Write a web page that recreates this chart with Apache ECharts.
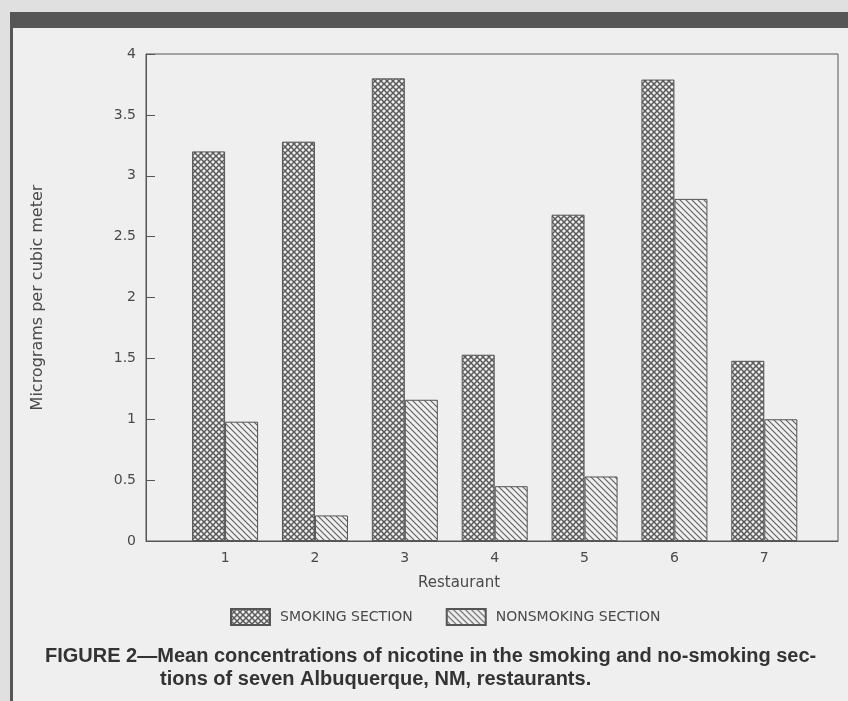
<!DOCTYPE html>
<html>
<head>
<meta charset="utf-8">
<script src="https://cdn.jsdelivr.net/npm/echarts@6/dist/echarts.min.js"></script>
<style>
html,body{margin:0;padding:0;background:#e2e2e2;}
#chart{width:848px;height:701px;}
</style>
</head>
<body>
<div id="chart"></div>
<script>
// ---- data ----
var restaurants = [1, 2, 3, 4, 5, 6, 7];
var smoking = [3.20, 3.28, 3.80, 1.53, 2.68, 3.79, 1.48];
var nonsmoking = [0.98, 0.21, 1.16, 0.45, 0.53, 2.81, 1.00];
var yTicks = [0, 0.5, 1, 1.5, 2, 2.5, 3, 3.5, 4];
var seriesNames = ['SMOKING SECTION', 'NONSMOKING SECTION'];
var yTitle = 'Micrograms per cubic meter';
var xTitle = 'Restaurant';
var caption1 = 'FIGURE 2\u2014Mean concentrations of nicotine in the smoking and no-smoking sec-';
var caption2 = 'tions of seven Albuquerque, NM, restaurants.';

function makeCross() {
  var c = document.createElement('canvas');
  c.width = 6; c.height = 6;
  var g = c.getContext('2d');
  g.fillStyle = '#efefef'; g.fillRect(0, 0, 6, 6);
  g.strokeStyle = '#5a5a5a'; g.lineWidth = 1.5;
  g.beginPath();
  g.moveTo(-1, -1); g.lineTo(7, 7);
  g.moveTo(-1, 7); g.lineTo(7, -1);
  g.stroke();
  return c;
}
function makeHatch() {
  var c = document.createElement('canvas');
  c.width = 6; c.height = 6;
  var g = c.getContext('2d');
  g.fillStyle = '#efefef'; g.fillRect(0, 0, 6, 6);
  g.strokeStyle = '#5e5e5e'; g.lineWidth = 1.1;
  g.beginPath();
  g.moveTo(-1, -1); g.lineTo(7, 7);
  g.moveTo(-1, 5); g.lineTo(1, 7);
  g.moveTo(5, -1); g.lineTo(7, 1);
  g.stroke();
  return c;
}
var crossFill = { image: makeCross(), repeat: 'repeat' };
var hatchFill = { image: makeHatch(), repeat: 'repeat' };

var labelFont = 'DejaVu Sans';
var textColor = '#4a4a4a';
var chart = echarts.init(document.getElementById('chart'), null, { renderer: 'canvas' });
chart.setOption({
  backgroundColor: '#e0e0e0',
  animation: false,
  graphic: [
    { type: 'rect', z: -10, shape: { x: 13, y: 28, width: 835, height: 673 }, style: { fill: '#efefef' } },
    { type: 'rect', z: -9, shape: { x: 10, y: 12, width: 838, height: 16 }, style: { fill: '#565656' } },
    { type: 'rect', z: -9, shape: { x: 10, y: 12, width: 3, height: 689 }, style: { fill: '#565656' } },
    { type: 'text', left: 45, top: 646, style: { text: caption1, font: 'bold 20px "Liberation Sans"', fill: '#333' } },
    { type: 'text', left: 160, top: 669, style: { text: caption2, font: 'bold 20px "Liberation Sans"', fill: '#333' } },
    { type: 'text', left: 418, top: 576, style: { text: xTitle, font: '15px "DejaVu Sans"', fill: textColor } }
  ],
  grid: {
    left: 146, right: 10, top: 54, bottom: 160,
    show: true, borderColor: '#555', borderWidth: 1, backgroundColor: 'transparent'
  },
  legend: {
    left: 225, top: 603,
    itemWidth: 39, itemHeight: 16, itemGap: 33,
    icon: 'rect',
    data: seriesNames,
    textStyle: { fontFamily: labelFont, fontSize: 14, color: textColor, padding: [0, 0, 0, 5] }
  },
  xAxis: {
    type: 'value',
    min: 0.12, max: 7.82,
    splitLine: { show: false },
    axisLine: { show: true, lineStyle: { color: '#555', width: 1 } },
    axisTick: { show: false },
    axisLabel: {
      customValues: restaurants,
      margin: 10,
      fontFamily: labelFont, fontSize: 14, color: textColor
    }
  },
  yAxis: {
    type: 'value',
    min: 0, max: 4, interval: 0.5,
    name: yTitle,
    nameLocation: 'middle',
    nameGap: 100,
    nameRotate: 90,
    nameTextStyle: { fontFamily: labelFont, fontSize: 16, color: textColor },
    splitLine: { show: false },
    axisLine: { show: true, lineStyle: { color: '#555', width: 1 } },
    axisTick: { show: true, inside: true, length: 9, lineStyle: { color: '#555' } },
    axisLabel: {
      margin: 10,
      fontFamily: labelFont, fontSize: 14, color: textColor,
      customValues: yTicks
    }
  },
  series: [
    {
      name: seriesNames[0], type: 'bar', barWidth: 33, barGap: '0%',
      itemStyle: { color: crossFill, borderColor: '#555', borderWidth: 1 },
      data: restaurants.map(function (r, i) { return [r, smoking[i]]; })
    },
    {
      name: seriesNames[1], type: 'bar', barWidth: 33, barGap: '0%',
      itemStyle: { color: hatchFill, borderColor: '#555', borderWidth: 1 },
      data: restaurants.map(function (r, i) { return [r, nonsmoking[i]]; })
    }
  ]
});
</script>
</body>
</html>
